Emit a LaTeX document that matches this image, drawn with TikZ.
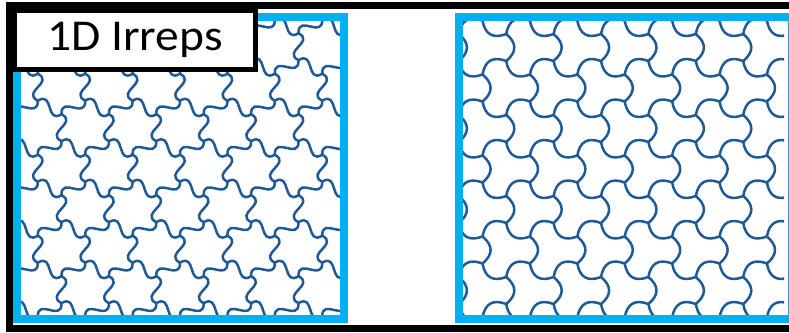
\documentclass[tikz,border=0pt]{standalone}
\usepackage{fontspec}
\usepackage{graphicx}
\setmainfont{Carlito}
\definecolor{framecyan}{HTML}{00B0F0}
\definecolor{tileblue}{HTML}{1F5A96}
\tikzset{
  outerframe/.style={draw=black, line width=7pt},
  panelframe/.style={draw=framecyan, line width=8pt},
  tileline/.style={draw=tileblue, line width=2.5pt, line cap=round, line join=round},
  labelbox/.style={draw=black, fill=white, line width=5pt, inner sep=0pt,
    minimum width=241pt, minimum height=59pt}
}
% the three right-hand edges of a pointy-top hexagon centred at (#1,#2);
% \ha..\hf are the normal offsets of the two control points of each edge
\newcommand{\hexright}[2]{%
  \draw[tileline]
    (#1,#2-27)
      .. controls (#1+7.9-13.5*\ha,#2-22.5+23.7*\ha)
              and (#1+15.8-13.5*\hb,#2-18+23.7*\hb) ..
    (#1+23.7,#2-13.5)
      .. controls (#1+23.7-27*\hc,#2-4.5)
              and (#1+23.7-27*\hd,#2+4.5) ..
    (#1+23.7,#2+13.5)
      .. controls (#1+15.8-13.5*\he,#2+18-23.7*\he)
              and (#1+7.9-13.5*\hf,#2+22.5-23.7*\hf) ..
    (#1,#2+27);%
}
\begin{document}
\begin{tikzpicture}[x=1pt,y=-1pt]
  \useasboundingbox (0,0) rectangle (789,332);

  % left panel: hexagons with S-shaped edges (pinwheel tiles)
  \begin{scope}
    \clip (21,21) rectangle (340,315);
    \def\ha{-0.62}\def\hb{0.62}\def\hc{-0.62}\def\hd{0.62}\def\he{-0.62}\def\hf{0.62}
    \foreach \j in {-1,...,9}{
      \foreach \i in {-1,...,8}{
        \pgfmathsetmacro\cx{14.1+\i*47.4+mod(\j+10,2)*23.7}
        \pgfmathsetmacro\cy{6.2+\j*40.5}
        \hexright{\cx}{\cy}
      }
    }
  \end{scope}

  % right panel: hexagons with alternately bulging edges (trefoil tiles)
  \begin{scope}
    \clip (463,21) rectangle (784,315);
    \def\ha{0.4}\def\hb{0.4}\def\hc{-0.4}\def\hd{-0.4}\def\he{0.4}\def\hf{0.4}
    \foreach \j in {-1,...,9}{
      \foreach \i in {-1,...,8}{
        \pgfmathsetmacro\cx{458.8+\i*47.4+mod(\j+10,2)*23.7}
        \pgfmathsetmacro\cy{7+\j*40.5}
        \hexright{\cx}{\cy}
      }
    }
  \end{scope}

  % panel frames
  \draw[panelframe] (17,17) rectangle (344,319);
  \draw[panelframe] (459,17) rectangle (792,319);

  % outer frame
  \draw[outerframe] (9,5.5) rectangle (796,328.5);

  % title box
  \node[labelbox] (title) at (135,40)
    {\fontsize{44}{44}\selectfont\scalebox{1.08}[1]{1D Irreps}};
\end{tikzpicture}
\end{document}
